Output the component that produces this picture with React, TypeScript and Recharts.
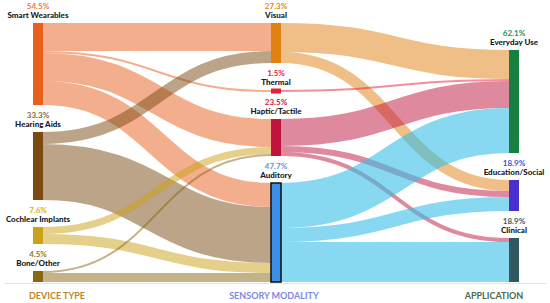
import { Sankey } from 'recharts'

// node order: device types, sensory modalities, applications
const NODE_NAMES = [
  'Smart Wearables', 'Hearing Aids', 'Cochlear Implants', 'Bone/Other',
  'Visual', 'Thermal', 'Haptic/Tactile', 'Auditory',
  'Everyday Use', 'Education/Social', 'Clinical',
]
const NODE_SHARES = [54.5, 33.3, 7.6, 4.5, 27.3, 1.5, 23.5, 47.7, 62.1, 18.9, 18.9]

const LINK_SOURCES = [0, 0, 0, 0, 1, 1, 2, 2, 3, 3, 4, 4, 5, 6, 6, 6, 7, 7, 7]
const LINK_TARGETS = [4, 5, 6, 7, 4, 7, 6, 7, 6, 7, 8, 9, 8, 8, 9, 10, 8, 9, 10]
const LINK_VALUES = [28, 2, 28, 24, 12, 56, 7, 10, 2, 9, 29, 11, 2, 27, 6, 4, 45, 14, 40]

const COLUMN_TITLES = ['DEVICE TYPE', 'SENSORY MODALITY', 'APPLICATION']

// styles
const NODE_COLORS = [
  '#E8601C', '#7A4A12', '#C9A216', '#8A6612',
  '#E0800F', '#E8203C', '#C0143E', '#3B8FE6',
  '#168040', '#4A2FCF', '#2F5860',
]
const LABEL_COLORS = [
  '#EE7A45', '#8C6A3A', '#D6B02A', '#8C7A30',
  '#E08A22', '#E8203C', '#C8184A', '#6A8FE0',
  '#22905A', '#3A55DD', '#3E5A6A',
]
const LINK_COLORS = ['#E8601C', '#7A4A12', '#C9A216', '#8A6612', '#E0800F', '#E8203C', '#C0143E', '#37BEE6']
const TITLE_COLORS = ['#B8862A', '#7B8BE0', '#4A6A4A']
const TITLE_X = [57, 274, 494]
const HIGHLIGHT = 7
const FONT = 'Lato, "Open Sans", sans-serif'

const W = 550
const H = 303

const data = {
  nodes: NODE_NAMES.map((name) => ({ name })),
  links: LINK_VALUES.map((value, i) => ({ source: LINK_SOURCES[i], target: LINK_TARGETS[i], value })),
}

const NodeShape = (props: any) => {
  const { x, y, width, height, index } = props
  const color = NODE_COLORS[index]
  const cx = x + width / 2
  const hl = index === HIGHLIGHT
  const h = Math.max(height, 5)
  return (
    <g>
      <rect x={x} y={y - (h - height) / 2} width={width} height={h} fill={color}
        stroke={hl ? '#111' : 'none'} strokeWidth={hl ? 1.5 : 0} />
      <text x={cx} y={y - 14} textAnchor="middle" fontSize={8} fontWeight={700} fill={LABEL_COLORS[index]} fontFamily={FONT}>
        {NODE_SHARES[index].toFixed(1)}%
      </text>
      <text x={cx} y={y - 5.5} textAnchor="middle" fontSize={8} fontWeight={900} fill="#141a26" fontFamily={FONT}>
        {NODE_NAMES[index]}
      </text>
    </g>
  )
}

const LinkShape = (props: any) => {
  const { sourceX, targetX, sourceY, targetY, sourceControlX, targetControlX, linkWidth, index } = props
  const color = LINK_COLORS[LINK_SOURCES[index]]
  return (
    <path
      d={`M${sourceX},${sourceY}C${sourceControlX},${sourceY} ${targetControlX},${targetY} ${targetX},${targetY}`}
      fill="none" stroke={color} strokeOpacity={index >= 16 ? 0.6 : 0.5} strokeWidth={Math.max(linkWidth, 1.5)}
    />
  )
}

export default function App() {
  return (
    <div style={{ position: 'absolute', left: 0, top: 0, width: W, height: H, background: '#fff' }}>
      <Sankey
        width={W}
        height={H}
        data={data}
        nodeWidth={10}
        nodePadding={27}
        sort={false}
        margin={{ top: 23, right: 31, bottom: 21, left: 33 }}
        node={NodeShape}
        link={LinkShape}
      />
      <svg width={W} height={H} style={{ position: 'absolute', left: 0, top: 0, pointerEvents: 'none' }}>
        <line x1={4} x2={546} y1={283.5} y2={283.5} stroke="#e2e2e2" strokeWidth={1} />
        {COLUMN_TITLES.map((t, i) => (
          <text key={t} x={TITLE_X[i]} y={299} textAnchor="middle" fontSize={9} fontWeight={700}
            fill={TITLE_COLORS[i]} fontFamily={FONT}>{t}</text>
        ))}
      </svg>
    </div>
  )
}
